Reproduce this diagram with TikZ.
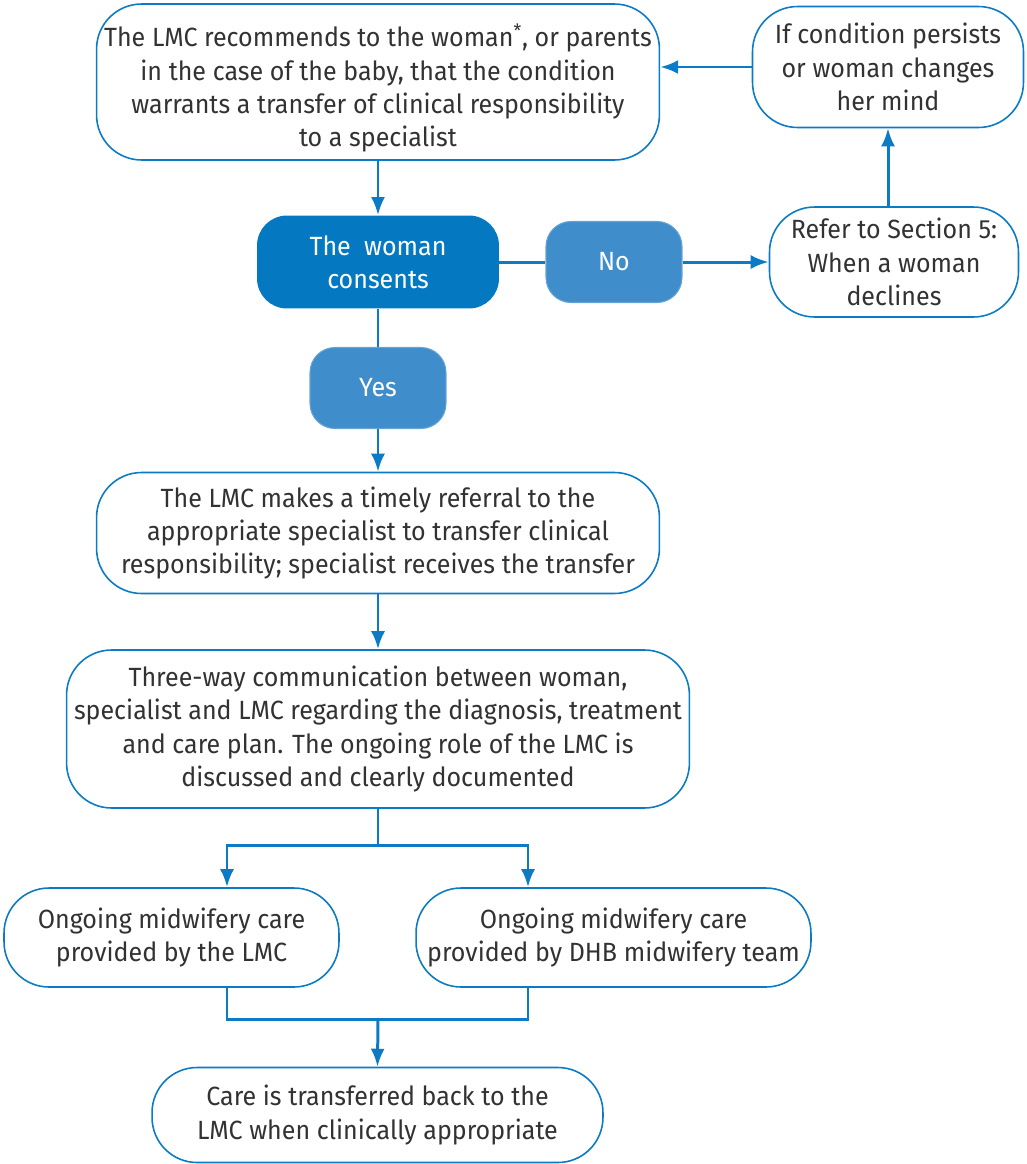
\documentclass[tikz,border=0pt]{standalone}
\usepackage{fontspec}
\setmainfont{Fira Sans}[FakeStretch=0.95]
\usepackage{tikz}
\usetikzlibrary{arrows.meta, positioning}
\definecolor{flowblue}{RGB}{10,123,196}
\definecolor{darkfill}{RGB}{4,121,193}
\definecolor{softfill}{RGB}{63,141,203}
\definecolor{txtgray}{RGB}{50,50,50}

\begin{document}
\begin{tikzpicture}[x=0.02cm, y=-0.02cm,
  box/.style={draw=flowblue, line width=0.9pt, rounded corners=0.9cm, fill=white,
    align=center, text=txtgray, inner sep=0pt,
    font=\fontsize{15}{19}\selectfont},
  choice/.style={fill=darkfill, rounded corners=0.6cm, align=center, text=white,
    inner sep=0pt, font=\fontsize{15}{19}\selectfont},
  answer/.style={fill=softfill, draw=softfill!80!white, line width=0.6pt, rounded corners=0.5cm,
    align=center, text=white, inner sep=0pt, minimum width=2.72cm, minimum height=1.62cm,
    font=\fontsize{15}{19}\selectfont},
  link/.style={draw=flowblue, line width=1.7pt},
  arr/.style={link, -{Latex[length=0.36cm, width=0.28cm]}}]
\useasboundingbox (0,0) rectangle (1027,1164);

% top row
\node[box, minimum width=11.26cm, minimum height=3.12cm] (recommend) at (378,82)
  {\rule{0pt}{20pt}The LMC recommends to the woman\textsuperscript{*}, or parents\\
   in the case of the baby, that the condition\\
   warrants a transfer of clinical responsibility\\
   to a specialist};
\node[box, minimum width=5.42cm, minimum height=2.42cm] (persists) at (888,67)
  {If condition persists\\ or woman changes\\ her mind};

% decision
\node[choice, minimum width=4.84cm, minimum height=1.86cm] (consents) at (378,262)
  {The\ \ woman\\ consents};
\node[answer] (no) at (614,262) {No};
\node[box, minimum width=4.98cm, minimum height=2.2cm] (declines) at (894,262)
  {Refer to Section 5:\\ When a woman\\ declines};
\node[answer] (yes) at (378,388) {Yes};

% referral and communication
\node[box, minimum width=11.26cm, minimum height=2.42cm] (referral) at (378,533)
  {The LMC makes a timely referral to the\\
   appropriate specialist to transfer clinical\\
   responsibility; specialist receives the transfer};
\node[box, minimum width=12.46cm, minimum height=3.16cm] (threeway) at (378,729)
  {Three-way communication between woman,\\
   specialist and LMC regarding the diagnosis, treatment\\
   and care plan. The ongoing role of the LMC is\\
   discussed and clearly documented};

% ongoing care
\node[box, minimum width=6.7cm, minimum height=1.98cm] (lmccare) at (171.5,937.5)
  {Ongoing midwifery care\\ provided by the LMC};
\node[box, minimum width=7.9cm, minimum height=1.98cm] (dhbcare) at (613.5,937.5)
  {Ongoing midwifery care\\ provided by DHB midwifery team};
\node[box, minimum width=9.02cm, minimum height=1.9cm] (careback) at (377.5,1115)
  {Care is transferred back to the\\ LMC when clinically appropriate};

\coordinate (split) at (378,845);
\coordinate (join) at (378,1019);
\coordinate (leftx) at (227,0);
\coordinate (rightx) at (528,0);

% connectors
\draw[arr] (recommend.south) -- (consents.north);
\draw[link] (consents.east) -- (no.west);
\draw[arr] (no.east) -- (declines.west);
\draw[arr] (persists.south |- declines.north) -- (persists.south);
\draw[arr] (persists.west) -- (persists.west -| recommend.east);
\draw[link] (consents.south) -- (yes.north);
\draw[arr] (yes.south) -- (referral.north);
\draw[arr] (referral.south) -- (threeway.north);
\draw[link] (threeway.south) -- (split);
\draw[arr] (split) -| (leftx |- lmccare.north);
\draw[arr] (split) -| (rightx |- dhbcare.north);
\draw[link] (leftx |- lmccare.south) |- (join);
\draw[link] (rightx |- dhbcare.south) |- (join);
\draw[arr] (join) -- (careback.north);
\end{tikzpicture}
\end{document}
